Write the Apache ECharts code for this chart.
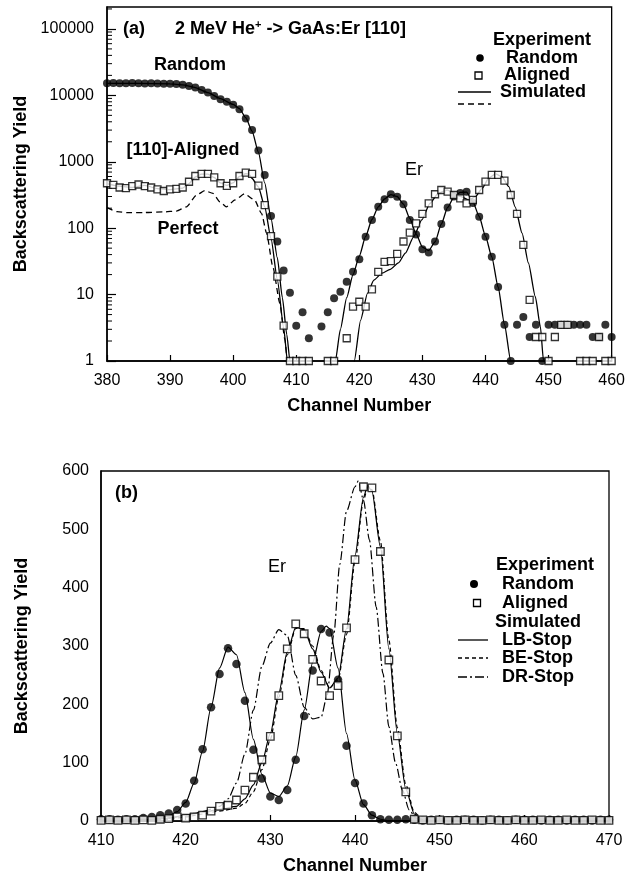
<!DOCTYPE html>
<html><head><meta charset="utf-8">
<script src="https://cdn.jsdelivr.net/npm/echarts@6/dist/echarts.min.js"></script>
<style>html,body{margin:0;padding:0;background:#fff}#c{width:628px;height:882px}</style>
</head><body><div id="c"></div>
<script>
// ---------- (a) top panel, log scale ----------
const topXTicks = [380, 390, 400, 410, 420, 430, 440, 450, 460];
const topYTicks = [1, 10, 100, 1000, 10000, 100000];
const topRandom = [[380,15200],[381,15300],[382,15200],[383,15200],[384,15300],[385,15200],[386,15100],[387,15200],[388,15100],[389,15000],[390,15000],[391,14800],[392,14400],[393,13800],[394,13100],[395,12000],[396,11000],[397,9800],[398,8700],[399,8000],[400,7200],[401,6200],[402,4500],[403,3000],[404,1480],[405,630],[406,152],[407,63],[408,23],[409,10.7],[410,3.4],[411,5.4],[412,2.2],[414,3.3],[415,5.4],[416,8.8],[417,11],[418,15.6],[419,22],[420,34],[421,74],[422,133],[423,210],[424,272],[425,324],[426,297],[427,229],[428,133],[429,80],[430,48],[431,43],[432,63],[433,116],[434,205],[435,300],[436,340],[437,355],[438,240],[439,149],[440,74],[441,37],[442,13],[443,3.5],[444,1],[445,3.5],[446,4.6],[447,2.3],[448,3.5],[449,1],[450,3.5],[451,3.5],[452,3.5],[453,3.5],[454,3.5],[455,3.5],[456,3.5],[457,2.3],[458,2.3],[459,3.5],[460,2.3]];
const topAligned = [[380,475],[381,450],[382,410],[383,400],[384,430],[385,455],[386,430],[387,410],[388,385],[389,363],[390,385],[391,390],[392,410],[393,500],[394,611],[395,655],[396,655],[397,584],[398,475],[399,432],[400,475],[401,611],[402,685],[403,655],[404,437],[405,223],[406,76],[407,18.6],[408,3.4],[409,1],[410,1],[411,1],[412,1],[415,1],[416,1],[418,2.2],[419,6.6],[420,7.8],[421,6.6],[422,12],[423,22],[424,31],[425,32],[426,41],[427,63],[428,86],[429,118],[430,164],[431,237],[432,324],[433,376],[434,355],[435,316],[436,282],[437,237],[438,266],[439,376],[440,502],[441,633],[442,633],[443,519],[444,316],[445,164],[446,56],[447,8.3],[448,2.3],[449,2.3],[450,1],[451,2.3],[452,3.5],[453,3.5],[455,1],[456,1],[457,1],[458,2.3],[459,1],[460,1]];
const topSimRandom = [[380,15200],[385,15100],[390,14900],[392,14400],[394,13100],[396,11000],[398,8900],[400,7300],[401,6300],[402,4600],[403,2900],[404,1400],[405,480],[406,140],[407,36],[407.8,9],[408.5,2.5],[409,1],[409.5,0.4],[415.8,0.4],[416.2,1],[417,3],[418,9],[419,20],[420,38],[421,75],[422,135],[423,210],[424,275],[425,320],[426,300],[427,230],[428,140],[429,82],[430,52],[431,46],[432,62],[433,115],[434,205],[435,295],[436,345],[437,350],[438,250],[439,150],[440,76],[441,37],[442,13],[443,3.6],[444,1],[444.5,0.4]];
const topSimAligned = [[380,470],[382,430],[384,410],[386,440],[388,395],[390,380],[392,400],[393,470],[394,590],[395,650],[396,650],[397,580],[398,480],[399,440],[400,480],[401,600],[402,660],[402.5,650],[403,560],[404,420],[405,210],[406,70],[407,17],[408,3.2],[408.6,1],[409,0.4],[418.8,0.4],[419.2,1],[420.2,4.1],[421.3,10.5],[422.3,16.5],[423.6,21],[424.9,24],[426.2,30],[427.3,42],[428.6,74],[429.9,133],[431.2,237],[432.5,335],[433.9,376],[435,340],[436.1,298],[437.4,265],[438.4,298],[439.5,400],[440.5,565],[441.6,655],[442.6,597],[443.7,422],[444.7,210],[445.8,84],[446.8,30],[447.9,9.3],[448.7,3.3],[449.2,1],[449.5,0.4]];
const topPerfect = [[380,204],[381.6,177],[383.2,171],[386,172],[389,176],[391,181],[392.6,210],[394.2,316],[395.5,367],[396.8,335],[397.9,250],[398.9,210],[400.3,266],[401.8,328],[403.4,266],[404.5,167],[405.3,84],[406.3,26],[407.4,7.4],[408.2,2.1],[408.6,1],[409,0.4]];
const topMinorMultipliers = [2, 3, 4, 5, 6, 7, 8, 9];

// ---------- (b) bottom panel, linear scale ----------
const botXTicks = [410, 420, 430, 440, 450, 460, 470];
const botYTicks = [0, 100, 200, 300, 400, 500, 600];
const botRandom = [[410,3],[411,3],[412,2],[413,3],[414,3],[415,5],[416,7],[417,10],[418,13],[419,19],[420,30],[421,69],[422,123],[423,195],[424,252],[425,296],[426,269],[427,206],[428,122],[429,73],[430,42],[431,36],[432,53],[433,105],[434,180],[435,258],[436,329],[437,323],[438,242],[439,129],[440,65],[441,30],[442,10],[443,3],[444,2],[445,2],[446,3],[447,2],[448,1],[449,2],[450,2],[451,1],[452,2],[453,2],[454,2],[455,1],[456,2],[457,2],[458,1],[459,2],[460,2],[461,2],[462,1],[463,2],[464,2],[465,1],[466,2],[467,2],[468,1],[469,2],[470,2]];
const botAligned = [[410,1],[411,2],[412,1],[413,2],[414,1],[415,2],[416,1],[417,3],[418,4],[419,7],[420,5],[421,7],[422,10],[423,17],[424,25],[425,27],[426,36],[427,53],[428,75],[429,105],[430,145],[431,215],[432,295],[433,338],[434,321],[435,277],[436,240],[437,215],[438,232],[439,331],[440,448],[441,573],[442,571],[443,462],[444,276],[445,146],[446,50],[447,3],[448,2],[449,1],[450,2],[451,1],[452,1],[453,2],[454,1],[455,1],[456,2],[457,1],[458,1],[459,2],[460,1],[461,1],[462,2],[463,1],[464,1],[465,2],[466,1],[467,1],[468,2],[469,1],[470,1]];
const botLBRandom = [[410,0],[414,1],[416,3],[417,5],[418,9],[419,16],[420,32],[421,65],[422,120],[423,195],[424,262],[425,298],[426,285],[427,220],[428,140],[429,80],[430,48],[431,42],[432,60],[433,110],[434,190],[435,272],[436,325],[436.6,334],[437,330],[438,262],[439,150],[440,70],[441,28],[442,10],[443,3],[444,0.5],[446,0],[470,0]];
const botLBAligned = [[410,0],[416,2],[418,5],[420,10],[422,15],[424,20],[426,25],[427,38],[428,62],[429,100],[430,150],[431,220],[432,290],[433,332],[434,328],[435,295],[436,255],[437,228],[438,245],[439,330],[440,455],[441,555],[441.5,575],[442,565],[443,470],[444,295],[445,150],[446,55],[447,12],[448,1],[449,0],[470,0]];
const botBEAligned = [[410,0],[416,1],[418,3],[420,7],[422,12],[424,17],[426,22],[427,30],[428,50],[429,88],[430,140],[431,212],[432,285],[433,330],[434,330],[435,300],[436,258],[437,228],[438,242],[439,320],[440,445],[441,550],[441.5,572],[442,568],[443,480],[444,310],[445,160],[446,62],[447,15],[448,2],[449,0],[470,0]];
const botDRAligned = [[410,0],[416,2],[418,5],[420,10],[422,16],[424,25],[425,38],[426,65],[427,115],[428,190],[429,265],[430,305],[431,328],[432,318],[433,250],[434,195],[435,175],[436,178],[436.7,215],[437.5,320],[438.2,440],[439,531],[440,573],[440.4,583],[441,550],[441.7,482],[442.5,367],[443.3,253],[444,162],[444.8,99],[445.6,53],[446.4,19],[447.2,5],[448,0],[470,0]];

const FONT = "'Liberation Sans', Arial, Helvetica, sans-serif";
const chart = echarts.init(document.getElementById('c'), null, {renderer: 'canvas'});

const minorVals = [];
topYTicks.forEach(d => topMinorMultipliers.forEach(m => minorVals.push([topXTicks[0], d * m])));

const axisLine = {show: true, lineStyle: {color: '#000', width: 1.5}};
const labelStyle = {color: '#000', fontSize: 16, fontFamily: FONT};
const nameStyle = {color: '#000', fontSize: 18, fontWeight: 'bold', fontFamily: FONT};

function boldText(text, x, y, align, size, weight) {
  return {type: 'text', silent: true, style: {text: text, x: x, y: y, align: align || 'left', verticalAlign: 'middle',
    font: (weight || 'bold') + ' ' + (size || 18) + 'px ' + FONT, fill: '#000'}};
}
function hline(x1, x2, y, dash) {
  return {type: 'line', silent: true, shape: {x1: x1, y1: y, x2: x2, y2: y}, style: {stroke: '#000', lineWidth: 1.3, lineDash: dash || null}};
}

const option = {
  animation: false,
  backgroundColor: '#fff',
  grid: [
    {left: 107, right: 13, top: 7, height: 354, show: true, borderColor: '#000', borderWidth: 1.3, backgroundColor: 'transparent'},
    {left: 101, right: 19, top: 471, height: 350, show: true, borderColor: '#000', borderWidth: 1.3, backgroundColor: 'transparent'}
  ],
  xAxis: [
    {type: 'value', gridIndex: 0, min: topXTicks[0], max: topXTicks[topXTicks.length - 1], interval: 10,
      axisLine: axisLine, axisTick: {show: true, inside: true, length: 6, lineStyle: {color: '#000', width: 1.2}},
      axisLabel: Object.assign({margin: 12}, labelStyle), splitLine: {show: false},
      name: 'Channel Number', nameLocation: 'middle', nameGap: 36, nameTextStyle: nameStyle},
    {type: 'value', gridIndex: 1, min: botXTicks[0], max: botXTicks[botXTicks.length - 1], interval: 10,
      axisLine: axisLine, axisTick: {show: true, inside: true, length: 6, lineStyle: {color: '#000', width: 1.2}},
      axisLabel: Object.assign({margin: 12}, labelStyle), splitLine: {show: false},
      name: 'Channel Number', nameLocation: 'middle', nameGap: 36, nameTextStyle: nameStyle}
  ],
  yAxis: [
    {type: 'log', logBase: 10, gridIndex: 0, min: topYTicks[0], max: 214000,
      axisLine: axisLine, axisTick: {show: true, inside: true, length: 9, lineStyle: {color: '#000', width: 1.2}},
      axisLabel: Object.assign({margin: 13, showMaxLabel: false, formatter: function (v) {
        const e = Math.log10(v); return Math.abs(e - Math.round(e)) < 1e-6 ? String(Math.round(v)) : ''; }}, labelStyle),
      splitLine: {show: false},
      name: 'Backscattering Yield', nameLocation: 'middle', nameRotate: 90, nameGap: 76, nameTextStyle: nameStyle},
    {type: 'value', gridIndex: 1, min: botYTicks[0], max: botYTicks[botYTicks.length - 1], interval: 100,
      axisLine: axisLine, axisTick: {show: false},
      axisLabel: Object.assign({margin: 12}, labelStyle), splitLine: {show: false},
      name: 'Backscattering Yield', nameLocation: 'middle', nameRotate: 90, nameGap: 70, nameTextStyle: nameStyle}
  ],
  series: [
    // log minor ticks on the top panel's y axis
    {type: 'custom', name: 'minor', xAxisIndex: 0, yAxisIndex: 0, silent: true, data: minorVals, z: 1,
      renderItem: function (params, api) {
        const p = api.coord([api.value(0), api.value(1)]);
        return {type: 'line', shape: {x1: p[0], y1: p[1], x2: p[0] + 5, y2: p[1]}, style: {stroke: '#000', lineWidth: 1}};
      }},
    // top simulated lines
    {type: 'line', name: 'Simulated', xAxisIndex: 0, yAxisIndex: 0, data: topSimRandom, showSymbol: false, smooth: 0.2, smoothMonotone: 'x',
      lineStyle: {color: '#000', width: 1.3}, z: 2},
    {type: 'line', name: 'Simulated', xAxisIndex: 0, yAxisIndex: 0, data: topSimAligned, showSymbol: false, smooth: 0.2, smoothMonotone: 'x',
      lineStyle: {color: '#000', width: 1.3}, z: 2},
    {type: 'line', name: 'Perfect', xAxisIndex: 0, yAxisIndex: 0, data: topPerfect, showSymbol: false, smooth: 0.2, smoothMonotone: 'x',
      lineStyle: {color: '#000', width: 1.3, type: [6, 4]}, z: 2},
    // top experiment
    {type: 'scatter', name: 'Random', xAxisIndex: 0, yAxisIndex: 0, data: topRandom, symbol: 'circle', symbolSize: 8,
      itemStyle: {color: '#000'}, z: 4},
    {type: 'scatter', name: 'Aligned', xAxisIndex: 0, yAxisIndex: 0, data: topAligned, symbol: 'rect', symbolSize: 7,
      itemStyle: {color: '#fff', borderColor: '#000', borderWidth: 1.3}, z: 5},
    // bottom simulated lines
    {type: 'line', name: 'LB-Stop', xAxisIndex: 1, yAxisIndex: 1, data: botLBRandom, showSymbol: false, smooth: 0.25, smoothMonotone: 'x',
      lineStyle: {color: '#000', width: 1.2}, z: 2},
    {type: 'line', name: 'LB-Stop', xAxisIndex: 1, yAxisIndex: 1, data: botLBAligned, showSymbol: false, smooth: 0.25, smoothMonotone: 'x',
      lineStyle: {color: '#000', width: 1.2}, z: 2},
    {type: 'line', name: 'BE-Stop', xAxisIndex: 1, yAxisIndex: 1, data: botBEAligned, showSymbol: false, smooth: 0.25, smoothMonotone: 'x',
      lineStyle: {color: '#000', width: 1.2, type: [4, 3]}, z: 2},
    {type: 'line', name: 'DR-Stop', xAxisIndex: 1, yAxisIndex: 1, data: botDRAligned, showSymbol: false, smooth: 0.25, smoothMonotone: 'x',
      lineStyle: {color: '#000', width: 1.2, type: [9, 3, 2, 3]}, z: 2},
    // bottom experiment
    {type: 'scatter', name: 'Random', xAxisIndex: 1, yAxisIndex: 1, data: botRandom, symbol: 'circle', symbolSize: 8.5,
      itemStyle: {color: '#000'}, z: 4},
    {type: 'scatter', name: 'Aligned', xAxisIndex: 1, yAxisIndex: 1, data: botAligned, symbol: 'rect', symbolSize: 7.5,
      itemStyle: {color: '#fff', borderColor: '#000', borderWidth: 1.3}, z: 5}
  ],
  graphic: [
    // panel (a) annotations
    boldText('(a)', 123, 29),
    {type: 'text', silent: true, style: {x: 175, y: 29, verticalAlign: 'middle', fill: '#000',
      text: '{a|2 MeV He}{s|+}{a| -> GaAs:Er [110]}',
      rich: {a: {font: 'bold 18px ' + FONT, fill: '#000', lineHeight: 20},
             s: {font: 'bold 11px ' + FONT, fill: '#000', verticalAlign: 'top', lineHeight: 20}}}},
    boldText('Random', 190, 65, 'center'),
    boldText('[110]-Aligned', 183, 150, 'center'),
    boldText('Perfect', 188, 229, 'center'),
    boldText('Er', 414, 170, 'center', 18, 'normal'),
    // panel (a) legend
    boldText('Experiment', 542, 40, 'center'),
    {type: 'circle', silent: true, shape: {cx: 480, cy: 58, r: 3.8}, style: {fill: '#000'}},
    boldText('Random', 506, 58),
    {type: 'rect', silent: true, shape: {x: 475, y: 72, width: 7, height: 7}, style: {fill: '#fff', stroke: '#000', lineWidth: 1.3}},
    boldText('Aligned', 504, 75),
    hline(458, 491, 92),
    boldText('Simulated', 500, 92),
    hline(458, 491, 104, [6, 4]),
    // panel (b) annotations
    boldText('(b)', 115, 493),
    boldText('Er', 277, 567, 'center', 18, 'normal'),
    // panel (b) legend
    boldText('Experiment', 545, 565, 'center'),
    {type: 'circle', silent: true, shape: {cx: 474, cy: 584, r: 4}, style: {fill: '#000'}},
    boldText('Random', 502, 584),
    {type: 'rect', silent: true, shape: {x: 473.5, y: 599.5, width: 7, height: 7}, style: {fill: '#fff', stroke: '#000', lineWidth: 1.3}},
    boldText('Aligned', 502, 603),
    boldText('Simulated', 538, 622, 'center'),
    hline(458, 488, 640),
    boldText('LB-Stop', 502, 640),
    hline(458, 488, 658, [4, 3]),
    boldText('BE-Stop', 502, 658),
    hline(458, 488, 677, [9, 3, 2, 3]),
    boldText('DR-Stop', 502, 677)
  ]
};
chart.setOption(option);
</script>
</body></html>
